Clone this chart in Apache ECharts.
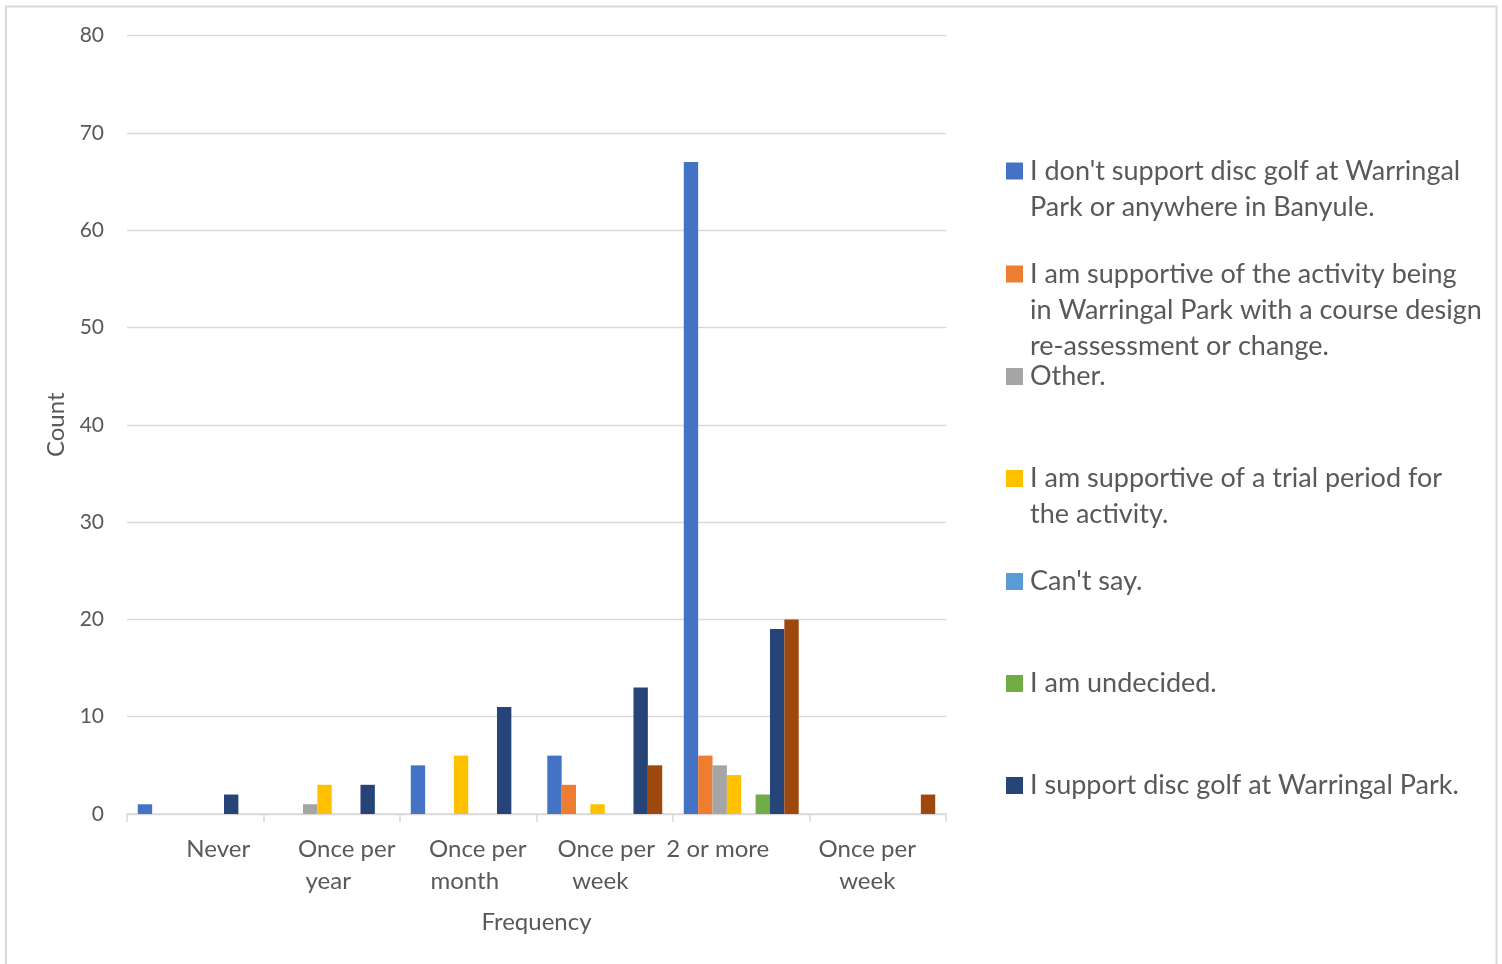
<!DOCTYPE html>
<html>
<head>
<meta charset="utf-8">
<script src="https://cdn.jsdelivr.net/npm/echarts@6/dist/echarts.min.js"></script>
<style>
html,body{margin:0;padding:0;background:#fff;}
#c{width:1502px;height:964px;}
</style>
</head>
<body>
<div id="c"></div>
<script>
// ---- data ----
const categories = ['Never', 'Once per\nyear', 'Once per\nmonth', 'Once per\nweek', '2 or more', 'Once per\nweek'];
const nameDontSupport = "I don't support disc golf at Warringal Park or anywhere in Banyule.";
const nameRedesign = 'I am supportive of the activity being in Warringal Park with a course design re-assessment or change.';
const nameOther = 'Other.';
const nameTrial = 'I am supportive of a trial period for the activity.';
const nameCantSay = "Can't say.";
const nameUndecided = 'I am undecided.';
const nameSupport = 'I support disc golf at Warringal Park.';
const nameBlank = '(blank)';

const valsDontSupport = [1, 0, 5, 6, 67, 0];
const valsRedesign    = [0, 0, 0, 3, 6, 0];
const valsOther       = [0, 1, 0, 0, 5, 0];
const valsTrial       = [0, 3, 6, 1, 4, 0];
const valsCantSay     = [0, 0, 0, 0, 0, 0];
const valsUndecided   = [0, 0, 0, 0, 2, 0];
const valsSupport     = [2, 3, 11, 13, 19, 0];
const valsBlank       = [0, 0, 0, 5, 20, 2];

const yMin = 0, yMax = 80, yStep = 10;
const xTitle = 'Frequency';
const yTitle = 'Count';

// ---- styles / layout ----
const FONT = 'Lato';
const TXT = '#595959';
const colors = ['#4472C4', '#ED7D31', '#A5A5A5', '#FFC000', '#5B9BD5', '#70AD47', '#264478', '#9E480E'];
const legendWrapped = [
  "I don't support disc golf at Warringal\nPark or anywhere in Banyule.",
  'I am supportive of the activity being\nin Warringal Park with a course design\nre-assessment or change.',
  'Other.',
  'I am supportive of a trial period for\nthe activity.',
  "Can't say.",
  'I am undecided.',
  'I support disc golf at Warringal Park.'
];
const legendCenters = [171, 274, 376.5, 478.5, 581.5, 683.5, 785.5];
const labelShift = [[23], [15, -3.5], [9.5, -3.5], [1.5, -4.5], [-23.5], [-10.5, -10.5]];
const LEG_FS = 27, LEG_LH = 36, ICON = 17;

const seriesDefs = [
  [nameDontSupport, valsDontSupport],
  [nameRedesign, valsRedesign],
  [nameOther, valsOther],
  [nameTrial, valsTrial],
  [nameCantSay, valsCantSay],
  [nameUndecided, valsUndecided],
  [nameSupport, valsSupport],
  [nameBlank, valsBlank]
];

const rich = {};
labelShift.forEach((arr, ci) => {
  arr.forEach((s, li) => {
    rich['c' + ci + 'l' + li] = {
      fontFamily: FONT, fontSize: 24, lineHeight: 32, color: TXT, align: 'center',
      padding: s >= 0 ? [0, 0, 0, 2 * s] : [0, -2 * s, 0, 0]
    };
  });
});

const legends = legendWrapped.map((txt, i) => {
  const n = txt.split('\n').length;
  const shown = new Array(n - 1).fill('').concat(txt.split('\n').map(l => '{t|' + l + '}')).join('\n');
  return {
    data: [seriesDefs[i][0]],
    left: 1006,
    top: legendCenters[i] - (2 * n - 1) * LEG_LH / 2,
    padding: 0,
    icon: 'rect',
    itemWidth: ICON,
    itemHeight: ICON,
    itemGap: 0,
    selectedMode: false,
    formatter: () => shown,
    textStyle: {
      fontFamily: FONT, fontSize: LEG_FS, lineHeight: LEG_LH, color: TXT,
      rich: {t: {fontFamily: FONT, fontSize: LEG_FS, lineHeight: LEG_LH, color: TXT, padding: [0, 0, 0, 2]}}
    }
  };
});

const chart = echarts.init(document.getElementById('c'), null, {renderer: 'canvas'});
chart.setOption({
  animation: false,
  backgroundColor: '#fff',
  textStyle: {fontFamily: FONT},
  graphic: [{
    type: 'rect', silent: true,
    shape: {x: 6, y: 6.5, width: 1490.5, height: 1000},
    style: {fill: 'none', stroke: '#d9d9d9', lineWidth: 2}
  }],
  grid: {left: 127, right: 556, top: 35.5, bottom: 150, containLabel: false},
  legend: legends,
  xAxis: {
    type: 'category',
    data: categories,
    name: xTitle,
    nameLocation: 'middle',
    nameGap: 96,
    nameTextStyle: {fontFamily: FONT, fontSize: 24, color: TXT},
    axisLine: {lineStyle: {color: '#d9d9d9', width: 1.5}},
    axisTick: {show: true, length: 8, lineStyle: {color: '#d9d9d9', width: 1.5}},
    axisLabel: {
      interval: 0,
      margin: 19,
      rich: rich,
      formatter: (v, idx) => v.split('\n').map((line, li) => '{c' + idx + 'l' + li + '|' + line + '}').join('\n')
    }
  },
  yAxis: {
    type: 'value',
    min: yMin, max: yMax, interval: yStep,
    name: yTitle,
    nameLocation: 'middle',
    nameRotate: 90,
    nameGap: 57,
    nameTextStyle: {fontFamily: FONT, fontSize: 24, color: TXT},
    axisLine: {show: false},
    axisTick: {show: false},
    axisLabel: {fontFamily: FONT, fontSize: 21, color: TXT, margin: 23},
    splitLine: {lineStyle: {color: '#d9d9d9', width: 1.3}}
  },
  series: seriesDefs.map((d, i) => ({
    type: 'bar',
    name: d[0],
    data: d[1],
    barGap: '0%',
    barCategoryGap: '15.8%',
    itemStyle: {color: colors[i]}
  }))
});
</script>
</body>
</html>
